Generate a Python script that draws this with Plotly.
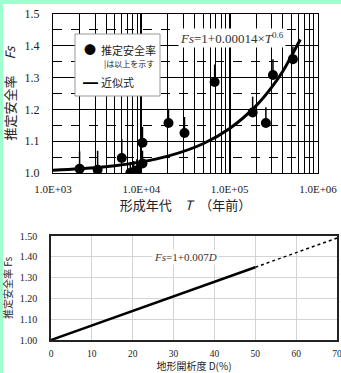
import plotly.graph_objects as go

# ---- data ----
T_obs = [2000, 3200, 6000, 7500, 8200, 8900, 10300, 10300, 20300, 30800, 67600, 182000, 257000, 309000, 520000]
Fs_obs = [1.013, 1.01, 1.047, 1.0, 1.003, 1.008, 1.03, 1.095, 1.157, 1.126, 1.286, 1.19, 1.157, 1.308, 1.358]
Fs_more = [0.055, 0.06, 0.06, 0.035, 0.035, 0.035, 0.04, 0.05, 0.045, 0.05, 0.055, 0.05, 0.05, 0.05, 0.04]

T_fit = [1000, 2000, 5000, 10000, 20000, 50000, 100000, 200000, 300000, 400000, 500000, 630000]
Fs_fit = [1.009, 1.013, 1.023, 1.035, 1.053, 1.092, 1.14, 1.212, 1.27, 1.32, 1.368, 1.42]

D_solid = [0, 50]
Fs_solid = [1.0, 1.35]
D_dot = [50, 70]
Fs_dot = [1.35, 1.49]

top_ticks = [1e3, 1e4, 1e5, 1e6]
top_ticktext = ["1.0E+03", "1.0E+04", "1.0E+05", "1.0E+06"]
minor_vals = [m * 10 ** e for e in (3, 4, 5) for m in range(2, 10)]

W, H = 341, 373
SERIF = "Liberation Serif, Noto Sans CJK JP, serif"
JP = "Noto Sans CJK JP, Liberation Serif, serif"


def px(x):
    return x / W


def py(y):
    return 1 - y / H


fig = go.Figure()

fig.add_trace(go.Scatter(
    x=T_obs, y=Fs_obs, mode="markers", name="推定安全率",
    marker=dict(color="black", size=10),
    error_y=dict(type="data", symmetric=False, array=Fs_more, arrayminus=[0] * len(Fs_more),
                 color="black", thickness=1.5, width=0),
    showlegend=False, xaxis="x", yaxis="y"))
fig.add_trace(go.Scatter(
    x=T_fit, y=Fs_fit, mode="lines", name="近似式", line=dict(color="black", width=3, shape="spline"),
    showlegend=False, xaxis="x", yaxis="y"))

fig.add_trace(go.Scatter(x=D_solid, y=Fs_solid, mode="lines", line=dict(color="black", width=2.5),
                         showlegend=False, xaxis="x2", yaxis="y2"))
fig.add_trace(go.Scatter(x=D_dot, y=Fs_dot, mode="lines", line=dict(color="black", width=1.5, dash="dot"),
                         showlegend=False, xaxis="x2", yaxis="y2"))


def note(x, y, text, size, color="#222", xanchor="left"):
    return dict(xref="paper", yref="paper", x=px(x), y=py(y), xanchor=xanchor, yanchor="middle",
                text=text, showarrow=False, font=dict(family=JP, size=size, color=color))


legend_notes = [
    note(90, 50, "●", 12, "black", "center"),
    note(99, 50, "推定安全率", 11),
    note(102, 63, "|は以上を示す", 8),
    note(90, 82, "<b>━</b>", 15, "black", "center"),
    note(99, 82, "近似式", 11),
]

fig.update_layout(
    width=W, height=H, autosize=False, margin=dict(l=0, r=0, t=0, b=0, autoexpand=False),
    paper_bgcolor="white", plot_bgcolor="white",
    font=dict(family=SERIF, color="#222", size=12),
    showlegend=False,
    xaxis=dict(domain=[px(53), px(318)], type="log", range=[3, 6.0], anchor="y", automargin=False,
               tickmode="array", tickvals=top_ticks, ticktext=top_ticktext,
               showgrid=True, gridcolor="black", gridwidth=2,
               minor=dict(tickmode="array", tickvals=minor_vals, showgrid=True, gridcolor="black", gridwidth=1),
               showline=True, linecolor="black", linewidth=1, mirror=True, zeroline=False,
               ticks="", ticklabelstandoff=6, tickfont=dict(size=11), ticklabeloverflow="allow",
               title=dict(text="形成年代　<i>T</i>　（年前）", font=dict(family=JP, size=13), standoff=6)),
    yaxis=dict(domain=[py(173), py(14)], range=[1.0, 1.5], anchor="x", automargin=False,
               tickmode="array", tickvals=[1.0, 1.1, 1.2, 1.3, 1.4, 1.5],
               ticktext=["1.0", "1.1", "1.2", "1.3", "1.4", "1.5"],
               showgrid=True, gridcolor="black", gridwidth=1,
               minor=dict(tickmode="array", tickvals=[1.05, 1.15, 1.25, 1.35, 1.45], showgrid=True,
                          gridcolor="black", gridwidth=1, griddash="dash"),
               showline=True, linecolor="black", linewidth=1, mirror=True, zeroline=False,
               ticks="", ticklabelstandoff=10, tickfont=dict(size=12),
               title=dict(text="推定安全率　 <i>Fs</i>", font=dict(family=JP, size=13), standoff=6)),
    xaxis2=dict(domain=[px(51), px(337)], range=[0, 70], anchor="y2", dtick=10, automargin=False,
                showgrid=True, gridcolor="#d4d4d4", gridwidth=1,
                showline=True, linecolor="#222", linewidth=1.5, mirror=True, zeroline=False,
                ticks="", ticklabelstandoff=4, tickfont=dict(size=9.5), ticklabeloverflow="allow",
                title=dict(text="地形開析度 D(%)", font=dict(family=JP, size=10), standoff=10)),
    yaxis2=dict(domain=[py(340), py(236)], range=[1.0, 1.5], anchor="x2", dtick=0.1, automargin=False,
                tickformat=".2f",
                showgrid=True, gridcolor="#d4d4d4", gridwidth=1,
                showline=True, linecolor="#222", linewidth=1.5, mirror=True, zeroline=False,
                ticks="", ticklabelstandoff=10, tickfont=dict(size=10),
                title=dict(text="推定安全率 Fs", font=dict(family=JP, size=10), standoff=7)),
    annotations=[
        dict(xref="x", yref="y", x=5.03, y=1.425, showarrow=False, bgcolor="white",
             xanchor="center", yanchor="middle",
             text="<i>Fs</i>=1+0.00014×<i>T</i><sup>0.6</sup>", font=dict(size=13, color="#333")),
        dict(xref="x2", yref="y2", x=33, y=1.40, showarrow=False, bgcolor="white",
             xanchor="center", yanchor="middle",
             text="<i>Fs</i>=1+0.007<i>D</i>", font=dict(size=11, color="#333")),
    ] + legend_notes,
    shapes=[
        dict(type="rect", xref="paper", yref="paper", x0=px(75), x1=px(160), y0=py(96), y1=py(34),
             fillcolor="white", line=dict(color="#999", width=1), layer="above"),
        dict(type="rect", xref="paper", yref="paper", x0=0, x1=1, y0=py(4), y1=1,
             fillcolor="#9fffcf", line=dict(width=0), layer="above"),
        dict(type="rect", xref="paper", yref="paper", x0=0, x1=px(3), y0=0, y1=1,
             fillcolor="#9fffcf", line=dict(width=0), layer="above"),
    ],
)

fig.write_html("out.html", config={"displayModeBar": False, "responsive": False},
               post_script="document.body.style.margin='0';")
